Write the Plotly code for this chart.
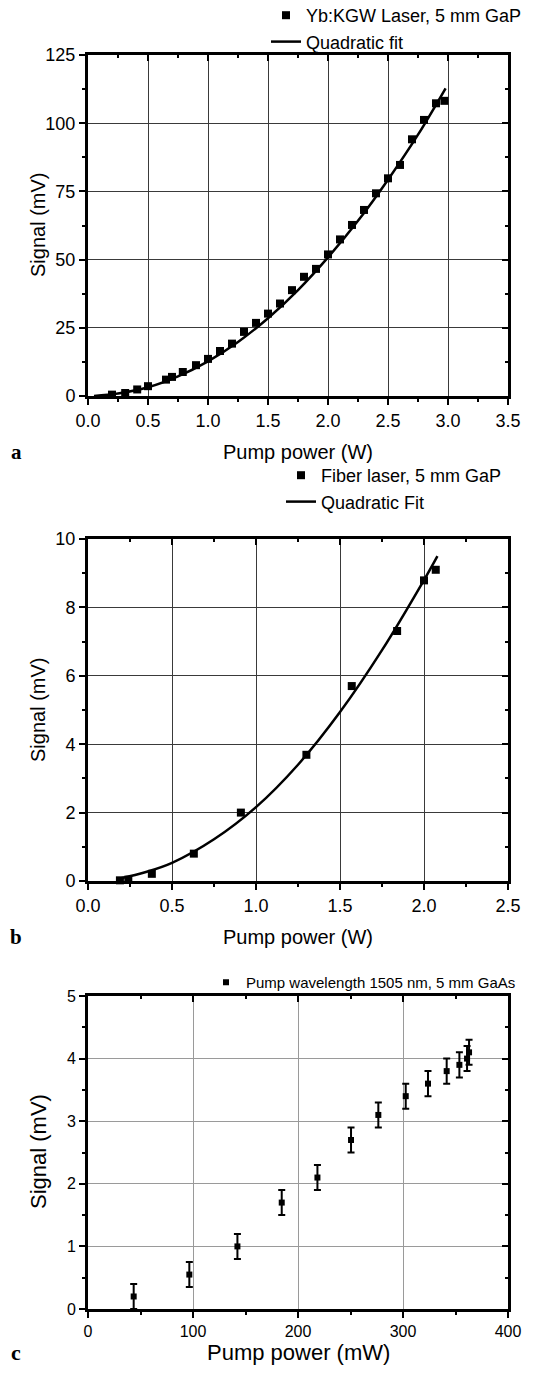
import plotly.graph_objects as go

W, H = 544, 1376

# ---------------- Panel a data ----------------
a_x = [0.20, 0.31, 0.41, 0.50, 0.65, 0.70, 0.79, 0.90, 1.00, 1.10, 1.20, 1.30, 1.40, 1.50,
       1.60, 1.70, 1.80, 1.90, 2.00, 2.10, 2.20, 2.30, 2.40, 2.50, 2.60, 2.70, 2.80, 2.90, 2.97]
a_y = [0.5, 1.1, 2.4, 3.6, 6.0, 7.0, 8.8, 11.3, 13.6, 16.5, 19.2, 23.5, 26.8, 30.2,
       33.9, 38.8, 43.7, 46.6, 51.9, 57.4, 62.7, 68.2, 74.3, 79.8, 84.7, 94.1, 101.2, 107.3, 108.2]
a_fit_x = [0.05, 0.25, 0.50, 0.75, 1.00, 1.25, 1.50, 1.75, 2.00, 2.25, 2.50, 2.75, 2.98]
a_fit_y = [0.0, 0.9, 3.2, 7.2, 12.7, 19.8, 28.5, 38.8, 50.8, 64.2, 79.3, 95.8, 112.8]

# ---------------- Panel b data ----------------
b_x = [0.19, 0.24, 0.38, 0.63, 0.91, 1.30, 1.57, 1.84, 2.00, 2.07]
b_y = [0.02, 0.04, 0.21, 0.80, 2.00, 3.69, 5.70, 7.31, 8.79, 9.10]
b_fit_x = [0.18, 0.35, 0.50, 0.75, 1.00, 1.25, 1.50, 1.75, 2.00, 2.08]
b_fit_y = [0.06, 0.27, 0.53, 1.22, 2.16, 3.40, 4.94, 6.75, 8.80, 9.50]

# ---------------- Panel c data ----------------
c_x = [43.5, 96.5, 142.3, 184.5, 218.5, 250.5, 276.5, 302.6, 323.8, 341.6, 353.7, 361.0, 362.9]
c_y = [0.20, 0.55, 1.00, 1.70, 2.10, 2.70, 3.10, 3.40, 3.60, 3.80, 3.90, 4.00, 4.10]
c_err = [0.2, 0.2, 0.2, 0.2, 0.2, 0.2, 0.2, 0.2, 0.2, 0.2, 0.2, 0.2, 0.2]

FONT = "Liberation Sans, Arial, sans-serif"
SERIF = "Liberation Serif, Times New Roman, serif"


def py(p):
    return 1 - p / H


def px(p):
    return p / W


fig = go.Figure()
fig.add_trace(go.Scatter(x=a_x, y=a_y, mode="markers", name="Yb:KGW Laser, 5 mm GaP",
                         marker=dict(symbol="square", size=8, color="black"),
                         xaxis="x", yaxis="y", legend="legend", cliponaxis=False))
fig.add_trace(go.Scatter(x=a_fit_x, y=a_fit_y, mode="lines", name="Quadratic fit",
                         line=dict(color="black", width=2.5, shape="spline"),
                         xaxis="x", yaxis="y", legend="legend"))
fig.add_trace(go.Scatter(x=b_x, y=b_y, mode="markers", name="Fiber laser, 5 mm GaP",
                         marker=dict(symbol="square", size=8, color="black"),
                         xaxis="x2", yaxis="y2", legend="legend2", cliponaxis=False))
fig.add_trace(go.Scatter(x=b_fit_x, y=b_fit_y, mode="lines", name="Quadratic Fit",
                         line=dict(color="black", width=2.5, shape="spline"),
                         xaxis="x2", yaxis="y2", legend="legend2"))
fig.add_trace(go.Scatter(x=c_x, y=c_y, mode="markers", name="Pump wavelength 1505 nm, 5 mm GaAs",
                         marker=dict(symbol="square", size=6, color="black"),
                         error_y=dict(type="data", array=c_err, color="black", thickness=2, width=3.5),
                         xaxis="x3", yaxis="y3", legend="legend3", cliponaxis=False))

# empty traces so the mirrored (top / right) tick axes are drawn
for i in range(4, 7):
    fig.add_trace(go.Scatter(x=[], y=[], xaxis="x" + str(i), yaxis="y" + str(i),
                             showlegend=False, hoverinfo="skip"))

xdom = [88 / W, 508 / W]
panels = [
    # (ybot px, ytop px, xrange, xdtick, xminor, xfmt, yrange, ydtick, yminor, gridcolor, tickfont)
    (396, 55, [0, 3.5], 0.5, 0.25, ".1f", [0, 125], 25, 12.5, "#3a3a3a", 18),
    (881, 539, [0, 2.5], 0.5, 0.25, ".1f", [0, 10], 2, 1, "#3a3a3a", 18),
    (1309, 996, [0, 400], 100, 50, "d", [0, 5], 1, 0.5, "#9a9a9a", 16),
]

layout = dict(width=W, height=H, template="none",
              margin=dict(l=0, r=0, t=0, b=0, pad=0, autoexpand=False),
              paper_bgcolor="white", plot_bgcolor="white", showlegend=True,
              font=dict(family=FONT, color="black"))

for i, (yb, yt, xr, xd, xm, xf, yr, yd, ym, gc, tf) in enumerate(panels, start=1):
    s = "" if i == 1 else str(i)
    ydom = [py(yb), py(yt)]
    common = dict(showline=True, linewidth=3, linecolor="black", mirror=True, zeroline=False,
                  ticks="outside", ticklen=6, tickwidth=2, tickcolor="black",
                  tickfont=dict(family=FONT, size=tf, color="black"), automargin=False,
                  showgrid=True, gridcolor=gc, gridwidth=1, fixedrange=True)
    layout["xaxis" + s] = dict(common, domain=xdom, range=xr, tick0=0, dtick=xd, tickformat=xf,
                               anchor="y" + s,
                               minor=dict(ticks="outside", ticklen=3, tickwidth=2, tickcolor="black",
                                          tick0=0, dtick=xm, showgrid=False))
    layout["yaxis" + s] = dict(common, domain=ydom, range=yr, tick0=0, dtick=yd,
                               anchor="x" + s,
                               minor=dict(ticks="outside", ticklen=3, tickwidth=2, tickcolor="black",
                                          tick0=0, dtick=ym, showgrid=False))
    # inward ticks on top and right
    t = str(i + 3)
    layout["xaxis" + t] = dict(overlaying="x" + s, side="top", anchor="y" + t, range=xr, tick0=0,
                               dtick=xd, ticks="inside", ticklen=6, tickwidth=2, tickcolor="black",
                               showticklabels=False, showgrid=False, showline=False, zeroline=False,
                               fixedrange=True, automargin=False,
                               minor=dict(ticks="inside", ticklen=3, tickwidth=2, tickcolor="black",
                                          tick0=0, dtick=xm, showgrid=False))
    layout["yaxis" + t] = dict(overlaying="y" + s, side="right", anchor="x" + t, range=yr, tick0=0,
                               dtick=yd, ticks="inside", ticklen=6, tickwidth=2, tickcolor="black",
                               showticklabels=False, showgrid=False, showline=False, zeroline=False,
                               fixedrange=True, automargin=False,
                               minor=dict(ticks="inside", ticklen=3, tickwidth=2, tickcolor="black",
                                          tick0=0, dtick=ym, showgrid=False))

leg_common = dict(bgcolor="rgba(0,0,0,0)", borderwidth=0, xanchor="left", yanchor="top",
                  tracegroupgap=0)
layout["legend"] = dict(leg_common, x=px(266), y=py(-3), font=dict(family=FONT, size=18, color="black"))
layout["legend2"] = dict(leg_common, x=px(281), y=py(457), font=dict(family=FONT, size=18, color="black"))
layout["legend3"] = dict(leg_common, x=px(206), y=py(966), font=dict(family=FONT, size=15, color="black"))

fig.update_layout(**layout)

# axis titles and panel letters
texts = [
    ("Pump power (W)", 298, 452, 20, 0, FONT),
    ("Pump power (W)", 298, 937, 20, 0, FONT),
    ("Pump power (mW)", 298, 1352, 22, 0, FONT),
    ("Signal (mV)", 38, 225, 20, -90, FONT),
    ("Signal (mV)", 38, 710, 20, -90, FONT),
    ("Signal (mV)", 38, 1152, 22, -90, FONT),
]
for txt, x, y, size, ang, fam in texts:
    fig.add_annotation(text=txt, x=px(x), y=py(y), xref="paper", yref="paper", showarrow=False,
                       textangle=ang, xanchor="center", yanchor="middle",
                       font=dict(family=fam, size=size, color="black"))

for letter, y, size in [("a", 452, 21), ("b", 937, 21), ("c", 1352, 22)]:
    fig.add_annotation(text="<b>" + letter + "</b>", x=px(16), y=py(y), xref="paper", yref="paper",
                       showarrow=False, xanchor="center", yanchor="middle",
                       font=dict(family=SERIF, size=size, color="black"))

fig.write_html("out.html")
